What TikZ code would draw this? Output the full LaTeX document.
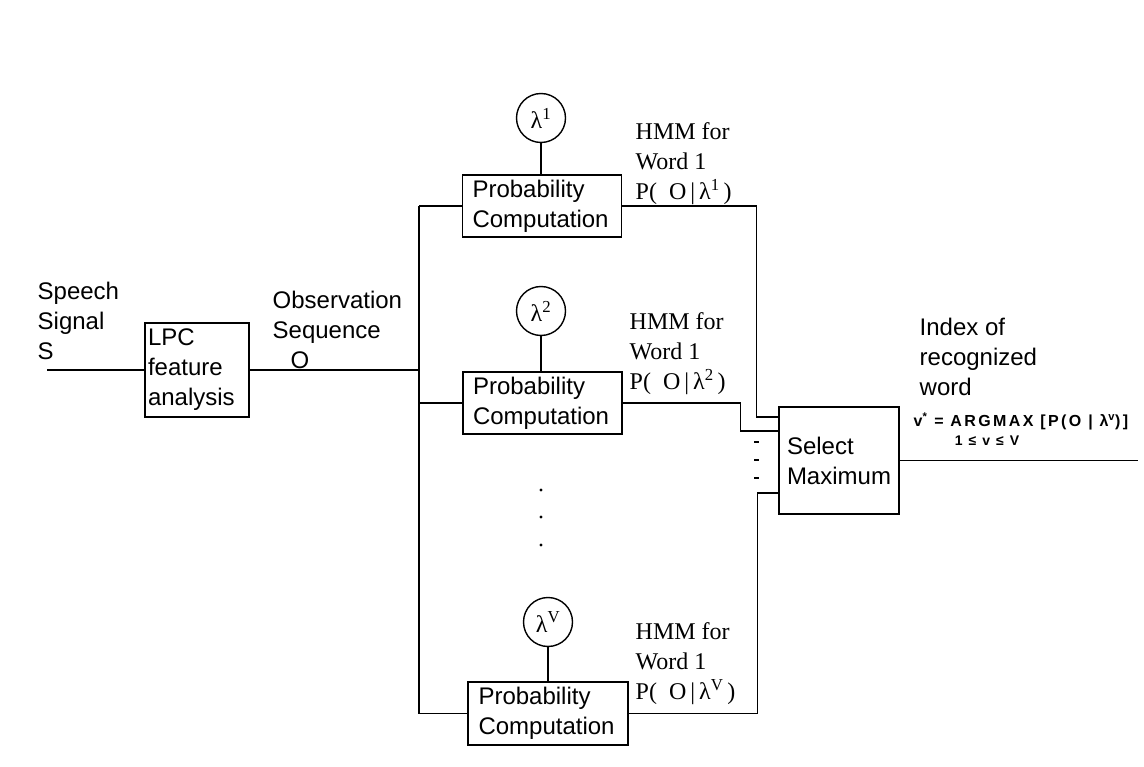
\documentclass[tikz,border=0pt]{standalone}
\usepackage{fontspec}
\setmainfont{Liberation Serif}
\setsansfont{Liberation Sans}
\newfontfamily\spacedsans[LetterSpace=15]{Liberation Sans}
\usetikzlibrary{positioning, calc}

\begin{document}
\begin{tikzpicture}[x=1pt, y=-1pt, line width=1.4,
    box/.style={draw, rectangle, align=left, inner ysep=2,
                font=\sffamily\fontsize{24}{30}\selectfont},
    prob/.style={box, minimum width=159, minimum height=62, text width=139, inner xsep=10},
    lam/.style={draw, circle, minimum size=49, inner sep=0, font=\fontsize{24}{28}\selectfont},
    sans/.style={anchor=north west, align=left, inner sep=0,
                 font=\sffamily\fontsize{24}{30}\selectfont},
    hmm/.style={anchor=north west, align=left, inner sep=0,
                font=\fontsize{24}{30}\selectfont}
]
    \useasboundingbox (0,0) rectangle (1144,767);

    % blocks
    \node[box, minimum width=104, minimum height=94, text width=98, inner xsep=3] (lpc) at (197,370) {LPC\\feature\\analysis};
    \node[prob] (p1) at (542,206) {Probability\\Computation};
    \node[prob] (p2) at (542.5,403) {Probability\\Computation};
    \node[prob, minimum width=160, minimum height=63] (p3) at (548,713.5) {Probability\\Computation};
    \node[box, minimum width=120, minimum height=107, text width=104, inner xsep=8] (sel) at (839,460.5) {Select\\Maximum};

    % models
    \node[lam] (l1) at (541,118) {λ\textsuperscript{1}};
    \node[lam] (l2) at (541,311) {λ\textsuperscript{2}};
    \node[lam] (l3) at (548,622) {λ\textsuperscript{V}};
    \draw (l1.south) -- (l1.south |- p1.north);
    \draw (l2.south) -- (l2.south |- p2.north);
    \draw (l3.south) -- (l3.south |- p3.north);

    % bus
    \coordinate (sig) at (47,370);
    \coordinate (bustop) at (419,206);
    \coordinate (busbot) at (419,713.5);
    \draw (sig) -- (lpc.west);
    \draw (lpc.east) -- (lpc.east -| bustop);
    \draw (bustop) -- (busbot);
    \draw (bustop) -- (p1.west);
    \draw (p2.west -| bustop) -- (p2.west);
    \draw (busbot) -- (p3.west);

    % into select maximum
    \coordinate (s1) at ($(sel.west)+(0,-43.5)$);
    \coordinate (s2) at ($(sel.west)+(0,-29.5)$);
    \coordinate (s3) at ($(sel.west)+(0,32.5)$);
    \coordinate (out) at (1138,460.5);
    \draw (p1.east) -- ++(134,0) |- (s1);
    \draw (p2.east) -- ++(117.5,0) |- (s2);
    \draw (p3.east) -- ++(129,0) |- (s3);
    \draw (sel.east) -- (out);

    \foreach \y in {490,517,545}
        \fill (541,\y) circle (1.6);
    \foreach \y in {442,460,478}
        \draw (754,\y) -- (759,\y);

    % labels
    \node[sans] (speech) at (37,281) {Speech\\Signal\\S};
    \node[sans] (obs) at (272,290) {Observation\\Sequence\\\hspace{18pt}O};
    \node[hmm] (h1) at (635,122) {HMM for\\Word 1\\P(\ \ O\,|\,λ\textsuperscript{1}\,)};
    \node[hmm] (h2) at (629,312) {HMM for\\Word 1\\P(\ \ O\,|\,λ\textsuperscript{2}\,)};
    \node[hmm] (h3) at (635,622) {HMM for\\Word 1\\P(\ \ O\,|\,λ\textsuperscript{V}\,)};
    \node[sans] (index) at (919,317) {Index of\\recognized\\word};
    \node[anchor=base west, inner sep=0, font=\spacedsans\bfseries\fontsize{16}{18}\selectfont]
        (argmax) at (913,427) {v\textsuperscript{*} = ARGMAX [P(O | λ\textsuperscript{v})]};
    \node[anchor=base, inner sep=0, font=\spacedsans\bfseries\fontsize{14}{16}\selectfont]
        (range) at (987,446) {1 ≤ v ≤ V};
\end{tikzpicture}
\end{document}
